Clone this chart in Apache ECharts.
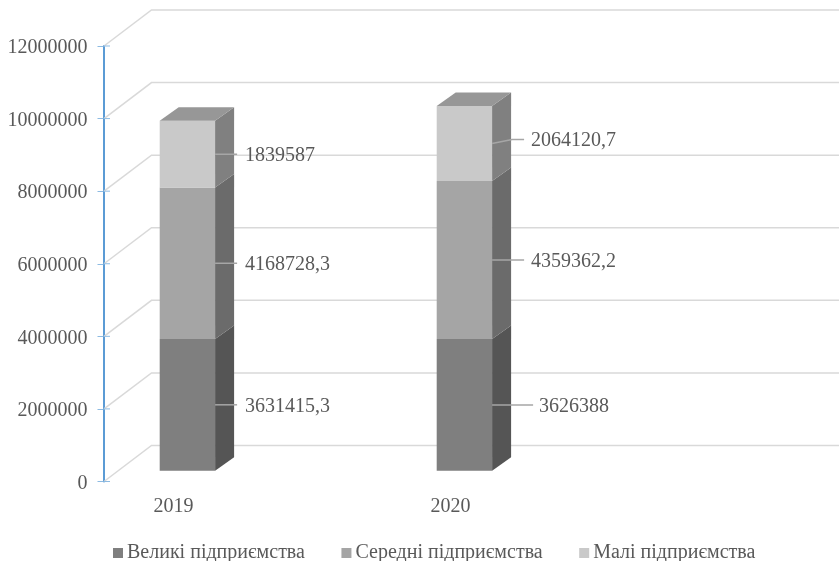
<!DOCTYPE html>
<html><head><meta charset="utf-8">
<style>html,body{margin:0;padding:0;background:#fff}#c{width:839px;height:561px}</style>
<script src="https://cdn.jsdelivr.net/npm/echarts@6/dist/echarts.min.js"></script>
</head><body><div id="c"></div>
<script>
const categories = ['2019', '2020'];
const large = [3631415.3, 3626388];
const medium = [4168728.3, 4359362.2];
const small = [1839587, 2064120.7];
const seriesNames = ['Великі підприємства', 'Середні підприємства', 'Малі підприємства'];
const yTicks = [0, 2000000, 4000000, 6000000, 8000000, 10000000, 12000000];

const FONT = '"Liberation Serif", "Times New Roman", serif';
const TEXT = '#595959';
const front = ['#7f7f7f', '#a5a5a5', '#c9c9c9'];
const side = ['#555555', '#6b6b6b', '#808080'];
const topFace = '#979797';
const GRID_LEFT = 35, AXIS_X = 104, RIGHT = 839;
const WALL = [47.5, -36], PLANE = [13.9, -10.8], DEPTH = [19, -13.5];
const LABEL_ENDS = [[22, 22, 22], [41, 32, 32]];
const LABEL_GAPS = [[8, 8, 8], [6, 7, 7]];
const LABEL_TILT = [[0, 0, 0], [0, 0, -4]];

const values = [large, medium, small];

function barItem(si) {
  return function (params, api) {
    const i = api.value(0), lo = api.value(1), hi = api.value(2);
    const c0 = api.coord([i, lo]), c1 = api.coord([i, hi]);
    const w = api.size([1, 0])[0] * 0.2;
    const x0 = c0[0] - w / 2 + PLANE[0], x1 = x0 + w;
    const yb = c0[1] + PLANE[1], yt = c1[1] + PLANE[1];
    const dx = DEPTH[0], dy = DEPTH[1];
    const poly = (pts, fill) => ({ type: 'polygon', shape: { points: pts }, style: { fill: fill } });
    const children = [
      poly([[x0, yb], [x1, yb], [x1, yt], [x0, yt]], front[si]),
      poly([[x1, yb], [x1 + dx, yb + dy], [x1 + dx, yt + dy], [x1, yt]], side[si])
    ];
    if (si === values.length - 1) {
      children.push(poly([[x0, yt], [x1, yt], [x1 + dx, yt + dy], [x0 + dx, yt + dy]], topFace));
    }
    const ym = (yb + yt) / 2, tilt = LABEL_TILT[i][si];
    const xe = x1 + LABEL_ENDS[i][si];
    const pts = tilt ? [[x1, ym], [xe - 12, ym + tilt], [xe, ym + tilt]] : [[x1, ym], [xe, ym]];
    children.push({ type: 'polyline', shape: { points: pts }, style: { stroke: '#a6a6a6', lineWidth: 1.5, fill: null } });
    children.push({
      type: 'text',
      style: {
        x: xe + LABEL_GAPS[i][si], y: ym + tilt + 1.5,
        text: String(values[si][i]).replace('.', ','),
        font: '20px ' + FONT, fill: TEXT, textVerticalAlign: 'middle', textAlign: 'left'
      }
    });
    return { type: 'group', children: children };
  };
}

function gridItem(params, api) {
  const y = api.coord([0, api.value(0)])[1];
  return {
    type: 'group', children: [
      { type: 'polyline', shape: { points: [[AXIS_X, y], [AXIS_X + WALL[0], y + WALL[1]], [RIGHT, y + WALL[1]]] }, style: { stroke: '#d9d9d9', lineWidth: 1.5, fill: null } },
      { type: 'line', shape: { x1: AXIS_X, y1: y, x2: AXIS_X + 6, y2: y }, style: { stroke: '#8dbbe3', lineWidth: 1 } }
    ]
  };
}

let acc = categories.map(() => 0);
const barSeries = seriesNames.map((name, si) => {
  const data = categories.map((c, i) => {
    const lo = acc[i], hi = lo + values[si][i];
    acc[i] = hi;
    return [i, lo, hi];
  });
  return {
    type: 'custom', name: name, renderItem: barItem(si), data: data,
    encode: { x: 0, y: [1, 2] }, itemStyle: { color: front[si] }, z: 3, clip: false, silent: true
  };
});

const chart = echarts.init(document.getElementById('c'), null, { renderer: 'canvas' });
chart.setOption({
  animation: false,
  backgroundColor: '#fff',
  grid: { left: GRID_LEFT, width: 554, top: 46, height: 435.5 },
  xAxis: {
    type: 'category', data: categories,
    axisLine: { show: false }, axisTick: { show: false }, splitLine: { show: false },
    axisLabel: { color: TEXT, fontFamily: FONT, fontSize: 20, margin: 15 }
  },
  yAxis: {
    type: 'value', min: 0, max: 12000000, interval: 2000000, offset: GRID_LEFT - AXIS_X + 0.5,
    splitLine: { show: false },
    axisLine: { show: true, lineStyle: { color: '#5b9bd5', width: 2 } },
    axisTick: { show: true, length: 6, lineStyle: { color: '#8dbbe3', width: 1 } },
    axisLabel: {
      color: TEXT, fontFamily: FONT, fontSize: 20, margin: 16, verticalAlign: 'top', lineHeight: 4,
      formatter: v => String(v)
    }
  },
  legend: {
    left: 108, top: 538, icon: 'rect', itemWidth: 10, itemHeight: 10, itemGap: 36.5,
    textStyle: { color: TEXT, fontFamily: FONT, fontSize: 20, padding: [0, 0, 0, -1] },
    data: seriesNames
  },
  series: [{
    type: 'custom', renderItem: gridItem, coordinateSystem: 'cartesian2d', silent: true,
    data: yTicks.map(v => [v]), encode: { y: 0 }, z: 1, clip: false
  }].concat(barSeries)
});
</script></body></html>
